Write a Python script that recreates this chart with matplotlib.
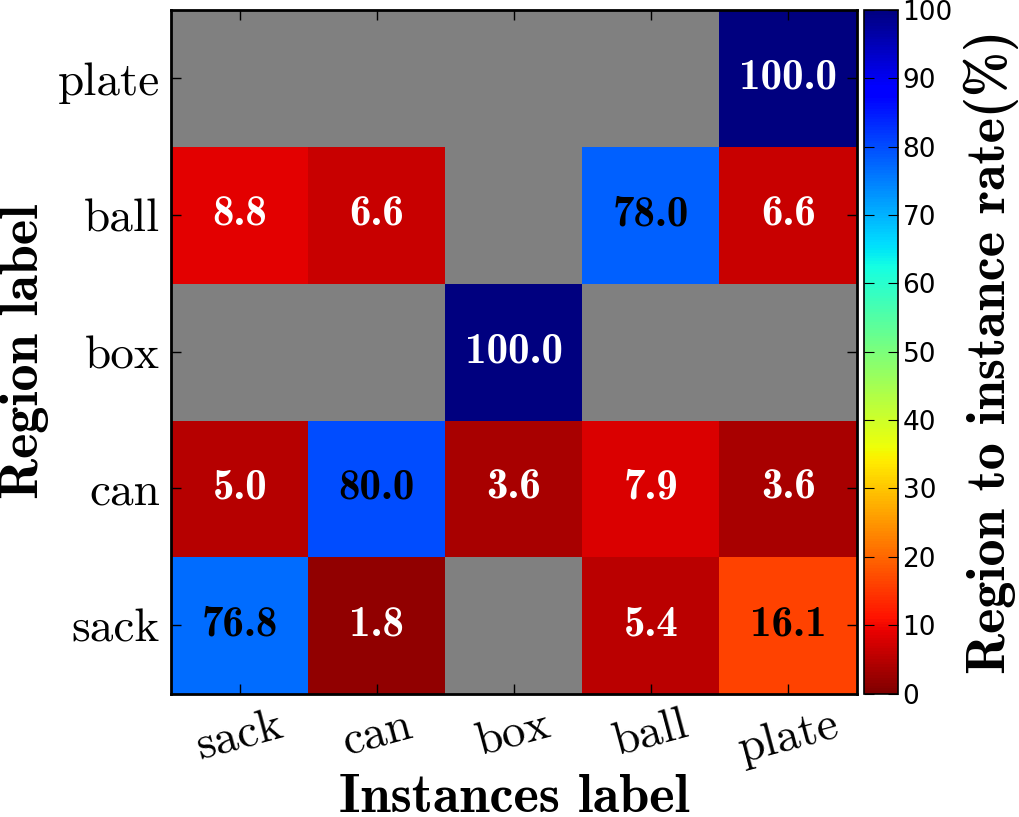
'''Region to instance rate heatmap'''

# ----------------------------------------------------------------------------
# Modules
from matplotlib import pyplot as plt
import numpy as np

# ----------------------------------------------------------------------------
# Data (rows = region label from bottom to top, cols = instances label)
instances = ['sack', 'can', 'box', 'ball', 'plate']
regions = ['sack', 'can', 'box', 'ball', 'plate']

row_sack = [76.8, 1.8, 0.0, 5.4, 16.1]
row_can = [5.0, 80.0, 3.6, 7.9, 3.6]
row_box = [0.0, 0.0, 100.0, 0.0, 0.0]
row_ball = [8.8, 6.6, 0.0, 78.0, 6.6]
row_plate = [0.0, 0.0, 0.0, 0.0, 100.0]

# ----------------------------------------------------------------------------


def rate_plot():
    plt.rcParams['xtick.direction'] = 'in'
    plt.rcParams['ytick.direction'] = 'in'

    rates = np.array([row_sack, row_can, row_box, row_ball, row_plate])
    masked = np.ma.masked_where(rates == 0, rates)

    cmap = plt.get_cmap('jet_r').copy()
    cmap.set_bad('gray')

    fig = plt.figure(figsize=(10.19, 8.17), dpi=100)
    ax = fig.add_axes([0.168, 0.151, 0.673, 0.837])
    cax = fig.add_axes([0.848, 0.151, 0.033, 0.837])

    im = ax.imshow(masked, cmap=cmap, vmin=0, vmax=100, origin='lower',
                   aspect='auto', interpolation='nearest')

    for i in range(len(regions)):
        for j in range(len(instances)):
            val = rates[i, j]
            if val == 0:
                continue
            color = 'black' if 15 < val < 90 else 'white'
            ax.text(j, i, '%.1f' % val, ha='center', va='center',
                    fontsize=31, color=color, family='cmb10')

    ax.set_xticks(range(len(instances)))
    ax.set_xticklabels(instances, rotation=15, fontsize=34, family='cmr10')
    ax.set_yticks(range(len(regions)))
    ax.set_yticklabels(regions, fontsize=34, family='cmr10')
    ax.tick_params(top=True, right=True, length=7, width=1, pad=8)
    for sp in ax.spines.values():
        sp.set_linewidth(2)

    ax.set_xlabel('Instances label', fontsize=39, family='cmb10', labelpad=2)
    ax.set_ylabel('Region label', fontsize=39, family='cmb10', labelpad=6)

    cb = fig.colorbar(im, cax=cax, ticks=np.arange(0, 101, 10))
    cb.ax.tick_params(labelsize=19, direction='in', length=7, left=True,
                      right=True)
    cb.outline.set_linewidth(1.2)
    cb.set_label('Region to instance rate(%)', fontsize=39, family='cmb10',
                 labelpad=8)

    fig.savefig('out.png', dpi=100)

    return None

# ----------------------------------------------------------------------------


def main():
    rate_plot()

    return None

# ----------------------------------------------------------------------------


if __name__ == "__main__":
    main()
